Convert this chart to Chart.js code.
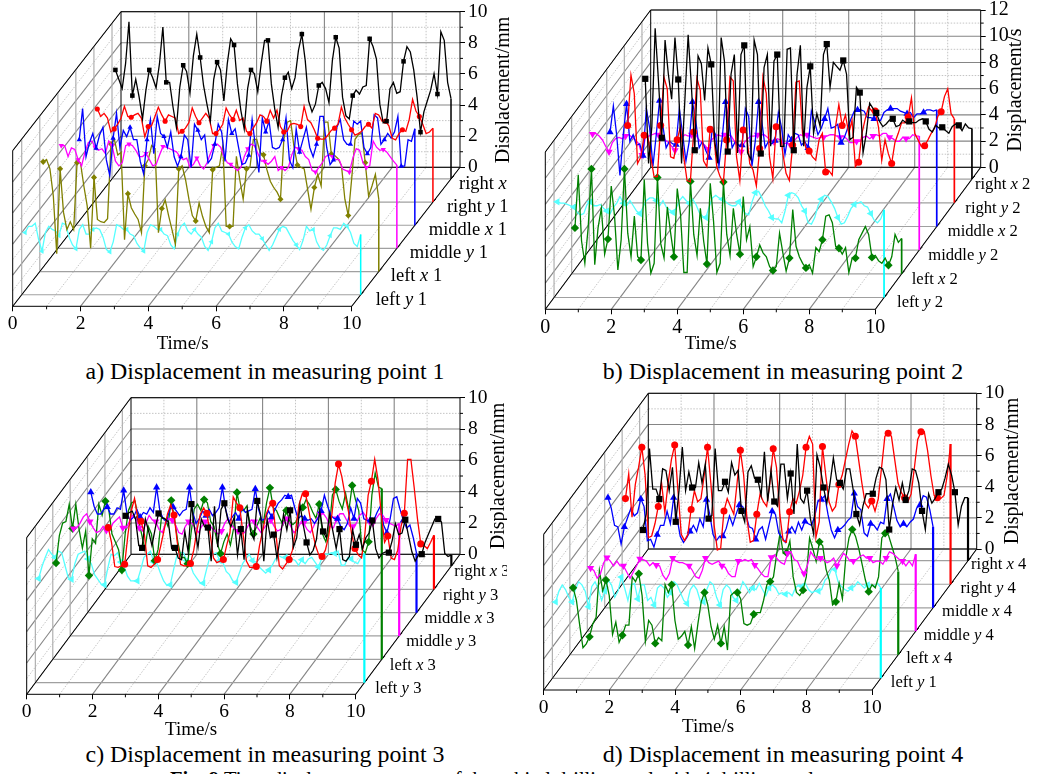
<!DOCTYPE html>
<html>
<head>
<meta charset="utf-8">
<title>Displacement in measuring points</title>
<script src="https://cdn.jsdelivr.net/npm/chart.js@4/dist/chart.umd.min.js"></script>
<style>
  html, body { margin: 0; padding: 0; background: #fff; }
  body { position: relative; width: 1038px; height: 774px; overflow: hidden; font-family: "Liberation Serif", serif; }
  canvas { position: absolute; }
  .cap { position: absolute; font-size: 23.9px; line-height: 26px; white-space: nowrap; color: #000; transform: translateX(-50%); }
</style>
</head>
<body>
<div class="cap" style="left:265px;top:358px">a) Displacement in measuring point 1</div>
<div class="cap" style="left:783px;top:358px">b) Displacement in measuring point 2</div>
<div class="cap" style="left:265px;top:741px">c) Displacement in measuring point 3</div>
<div class="cap" style="left:783px;top:741px">d) Displacement in measuring point 4</div>
<div class="cap" style="left:496px;top:766px;font-size:20.6px"><b>Fig. 9</b> Time displacement curves of the orbital drilling tool with 4 drilling tools</div>

<script>
'use strict';

/* ── time base shared by every curve ─────────────────── */
const times = [
  0.1,0.2,0.3,0.4,0.5,0.6,0.7,0.8,0.9,1.0,
  1.1,1.2,1.3,1.4,1.5,1.6,1.7,1.8,1.9,2.0,
  2.1,2.2,2.3,2.4,2.5,2.6,2.7,2.8,2.9,3.0,
  3.1,3.2,3.3,3.4,3.5,3.6,3.7,3.8,3.9,4.0,
  4.1,4.2,4.3,4.4,4.5,4.6,4.7,4.8,4.9,5.0,
  5.1,5.2,5.3,5.4,5.5,5.6,5.7,5.8,5.9,6.0,
  6.1,6.2,6.3,6.4,6.5,6.6,6.7,6.8,6.9,7.0,
  7.1,7.2,7.3,7.4,7.5,7.6,7.7,7.8,7.9,8.0,
  8.1,8.2,8.3,8.4,8.5,8.6,8.7,8.8,8.9,9.0,
  9.1,9.2,9.3,9.4,9.5,9.6,9.7,9.8,9.9,10.0
];
const xTicks = [0, 2, 4, 6, 8, 10];
const yTicks10 = [0, 2, 4, 6, 8, 10];
const yTicks12 = [0, 2, 4, 6, 8, 10, 12];

/* ── panel a ─────────────────────────────────────────── */
const aRightX = [
  7.0,6.4,5.8,7.4,10.1,5.35,6.4,5.25,3.85,5.7,
  7.0,6.5,5.85,7.4,9.76,6.2,6.2,4.6,3.3,5.9,
  7.3,6.9,5.5,7.9,9.3,7.8,6,4.8,3.7,6.4,
  7.5,7,5,7.4,9,8.6,6.1,4.4,3.2,5.8,
  7,6.75,5.6,7.4,8.9,8.9,6.1,4.5,3.3,5.35,
  6.5,6.85,5.8,6.5,8.25,9.3,7.6,5,4.3,4.8,
  6,6.2,5.8,4.9,7.6,9.1,8.4,5.25,4.05,3.85,
  5.35,5.7,5.45,5.9,6,9,8.5,7.7,4.8,3.6,
  3.7,5.8,6.2,5.5,5.6,7.55,8.5,8.15,7,5.25,
  3,4.3,5,5.7,6.75,5.45,9.45,8.9,6.2,5.15
];
const aRightY = [
  5.98,5.5,5.7,5.4,4.5,4.7,5,5.4,6.15,5.5,
  5.45,5.6,5.7,5.4,4.2,4.85,4.9,5.5,6.1,5.6,
  5.2,5.6,5.5,5.4,4.4,4.55,4.75,5.1,6.05,5.5,
  5.1,5.4,5.7,5.4,4.4,4.4,4.65,5,6.05,5.6,
  5.3,5.9,5.25,5.4,4.55,4.4,4.75,5.1,5.6,5.5,
  5.2,5.9,5.4,5.9,4.85,4.5,4.55,5,5.05,5,
  4.85,6.15,5.3,5.1,4.65,4.1,4.05,4.05,4.3,4.6,
  4.75,5,6.1,5.4,5,4.65,4.3,4.4,4.55,4.85,
  5,4.75,5.7,5.6,5.2,5.2,4.9,4.1,4,4.4,
  4.65,4.55,5.3,6.6,5.85,5.5,5,4.4,4.5,4.75
];
const aMiddleX = [
  5.5,7.5,4.4,5.3,5.9,4.95,5.8,6.3,4.2,3.2,
  5.6,7.2,5,6.1,5.7,6.3,5.5,5.5,4.1,3.3,
  5.5,6.8,4.6,7,5.9,5.7,5,6,4.4,3.8,
  4.4,5.8,5.5,3.7,6.5,6.1,5.5,5.8,4,4.3,
  5.2,6.5,6,4.1,6.8,5.9,6.2,5,3.9,4,
  4.5,6.8,5,3.4,6.9,6,6.7,5,4.9,5,
  5.5,6.9,4.2,3.7,6.2,4.7,5.5,6.3,5,4.4,
  5.2,7,7,5,3.9,4.2,6.3,6.8,5.5,5.2,
  5.2,6.7,6.5,6.7,5,4.6,5,7.1,6.9,5.2,
  5.5,5.9,5.6,6,7,3.8,3.8,5.5,5.4,6.2
];
const aMiddleY = [
  6.6,6.6,5.9,6.45,6.35,5.7,5.3,6.2,6.8,6.9,
  6.5,6.3,6.4,6.1,6.9,6.6,5.6,5.3,5.5,6.6,
  6.7,6.6,6.3,5.9,5.9,6.1,5.7,5.3,5.4,6,
  6.55,6.5,6.4,6.3,6.2,5.9,5.7,5.8,5.2,5.4,
  5.8,5.3,5.1,5.5,6.1,6.6,6.7,6.5,5.9,5.5,
  5.4,5.2,5,5.2,5.9,6.4,6.7,6.6,6.1,5.6,
  5.6,5.4,5.6,5.9,5,5.2,5,5.2,6,6.5,
  6.4,6.3,5.9,5.7,5,4.9,5.2,5.5,5.9,6,
  5.9,5.7,5.7,5.1,5,4.9,5.8,6.4,6.3,5.5,
  5.2,5.3,6.9,6.5,6.3,6.35,6.2,5.9,5.6,5.35
];
const aLeftX = [
  7.05,7.2,6.6,4.85,1.15,6.6,3.8,2.7,3.2,2.7,
  7,7,5.5,4.2,1.5,6.05,3.35,3.2,3.15,3.4,
  8.2,8.5,7.5,7.65,2.05,5,4.1,3.7,3.35,2.5,
  6.8,7.2,8.1,7.9,2.5,4.05,4.6,3.6,2.7,1.75,
  6.6,6.8,5.9,4.65,3.6,3.25,4.4,3.55,2.9,2.5,
  6.55,6.7,6.8,8.1,2.9,2.9,2.9,7.4,5.9,4.65,
  6.6,6.7,8.5,8.5,7.65,7.5,6.55,5.8,5.4,5.1,
  4.65,8.5,9.6,9.7,8,6.85,6.7,6.6,5.3,4,
  5.4,6.25,5.5,9.6,9.6,7.55,7.45,7.25,6.8,4.65,
  3.6,5.95,8.5,8.8,8.9,7,4.85,5.5,6.25,4.65
];
const aLeftY = [
  4,4.4,4.4,4.6,3.55,2.8,4,4.4,4.2,4.1,
  3.8,4.6,4.5,3.7,3.2,2.95,4.2,4.5,3.9,3.9,
  4.2,4.3,4.2,3.7,2.9,2.75,3.4,4.5,4.4,4.2,
  4.2,3.9,3.8,3.3,3,2.8,4,4.5,4.4,4.2,
  4.2,3.9,3.8,3.2,2.95,3.9,4.4,4.6,4.1,3.9,
  4.2,3.9,3.7,3.1,2.85,3.4,4.3,4.6,4.1,4,
  3.9,3.4,3.1,2.95,3.7,4.3,4.5,4.1,3.9,3.9,
  3.6,3.2,2.85,3.2,3.7,4.2,4.4,4.3,3.9,3.5,
  3.2,2.9,3.5,4.4,4.1,4.2,3.4,3,2.85,3.2,
  3.8,4.3,4.3,4.2,4.6,4.4,4,3.3,3.1,3.87
];

/* ── panel b ─────────────────────────────────────────── */
const bRightX = [
  7.65,1.2,4,11.5,7.5,3.15,10.6,8,6.1,10.8,
  7.6,1.2,6,11,7,2.2,9.4,8.8,6,10,
  8.75,3,1.2,10.8,9,2.1,8,9.5,2,9.5,
  10.2,2,1.5,10.6,9.5,1.95,8.5,9.5,2.5,9,
  9.5,2.5,2.5,9.9,10,2.2,8,10.2,2.5,7,
  8.6,3.5,5,4,9.5,10.3,7,8.9,8.6,8.3,
  9.05,8,3,3.2,7,6.6,2,3.5,5.8,5.4,
  5.05,4.4,4,4.2,4.5,4.6,4,4.1,4.5,4.3,
  4.4,4.3,4.3,4.5,4.6,4.4,3.8,3.6,4.1,3.9,
  3.95,3.7,3.5,4,4.2,4.1,3.7,4.2,3.9,3.85
];
const bRightY = [
  5.9,9.75,8.35,3,3.5,5.15,5.3,3.5,2,2,
  5.9,9.6,8.7,3.5,3.4,4.8,5.8,3.5,1.7,1.6,
  5.4,9.5,8.6,3.2,2.75,5.6,5.4,2.75,2,1.5,
  4.8,9.6,9.3,3.5,1.7,5.55,5.3,3,2.5,1.3,
  4.15,9.6,8.35,3.5,1.85,5.8,5.9,3.8,2.25,1.7,
  4.4,9.2,9.3,5.3,4.2,3.95,3.5,3.25,4.8,5.3,
  2.35,2.45,2.1,5.8,7.5,5.9,6.7,5.3,6.3,2.75,
  3.1,5.3,6.4,7.3,7,7,5.8,3.25,4.8,3.75,
  3,4.6,5.3,6.1,6.1,6.55,8,5.3,4.8,4.3,
  4.35,4.8,5.3,5.7,6.6,6.95,8.1,8.7,6.8,6.4
];
const bMiddleX = [
  7.2,9.2,7,3.9,7,9.35,6.5,7,6.2,6.3,
  5.4,9,7.5,4.6,7,9.6,7.7,6,6.5,6.3,
  6.25,9,7,5,6.5,9.5,8,6,6.5,5.8,
  5.25,7.5,7,4.6,6.8,9.5,8,6,6.5,6.2,
  6.2,9,8.4,4.6,6.5,9.5,8,6,6.5,6.3,
  6.55,8.7,7.5,5.5,7,6.6,7.1,7,6.2,6.5,
  6,8.8,8,7,7.5,8.2,9,7.5,7.6,7.8,
  6.4,6.8,7.5,8.2,8.8,8.9,8.9,8.8,8.3,8.3,
  8.2,8.1,8.1,8.7,8.9,9,9,9,8.8,8.7,
  8.6,8.7,8.3,8.6,8.6,8.7,8.9,8.9,8.8,8.9
];
const bMiddleY = [
  8.85,8.9,8.7,8.4,7.9,7.5,8.2,8.5,8.6,8.5,
  8.7,8.8,8.6,8.4,8.1,7.25,8.6,8.7,8.8,8.9,
  8.8,8.8,8.4,8.2,7.9,7.6,8.4,8.6,8.8,8.7,
  8.8,8.9,8.5,8.2,8,7.7,8.4,8.6,8.8,8.7,
  8.8,8.8,8.7,8.3,7.9,7.5,8.2,8.5,8.7,8.7,
  8.8,8.8,8.8,8.6,8.3,8.25,8.5,8.4,8.1,8.2,
  8,8.3,8.6,8.8,8.7,8.8,8.7,8.6,8.5,8.6,
  8.6,8.7,8.8,8.8,8.7,8.6,8.7,8.5,8.2,8.2,
  8.3,8.3,8.6,8.7,8.5,8.7,8.8,8.7,8.9,8.9,
  8.6,8.5,8.3,8.3,8.6,8.5,8.5,8.8,8.7,8.7
];
const bLeftX = [
  3.5,7.55,2.5,0.8,3.5,8,0.7,3.5,5,1.5,
  2.65,6.7,4.4,0.3,2.6,8,3.1,1.3,4.4,1.3,
  1.05,7.2,2.3,0.05,0.8,7.35,2.3,1.2,5.1,3.1,
  1.3,6.5,4.5,0.1,0.1,7.05,3,1.4,5,2.5,
  0.75,6.9,4,0.1,0.8,7,3,1.4,5,3,
  1.5,5.9,2.6,3.6,0.55,1.3,2.2,1.6,1.3,0.55,
  0.25,0.55,3.1,1.6,0.2,1.2,4.9,2.1,1.3,0.8,
  0.45,0.7,0.05,2,1.7,2.6,4.4,4.5,3.9,2.1,
  1.95,1.5,2,0.1,1.2,1.2,2.6,3.1,3.6,3,
  1.25,1.4,1,0.8,1.2,0.65,1.3,3,2.4,2.7
];
const bLeftY = [
  7.3,7.2,7.2,7.1,7,6.9,6.5,6.3,6.4,7.1,
  7.3,7,7,7.1,6.8,6.6,6.4,6.9,7.2,7.7,
  7.2,7,7.4,7,6.6,6.4,6.9,7.4,7.6,7.6,
  7.4,7,7.4,6.9,6.7,6.5,6.8,7.4,7.7,7.4,
  7.2,7.5,7.1,6.5,6.2,6.1,6.9,7.6,7.8,7.6,
  7.5,7.3,7.1,7,7,7.3,6.8,6.4,6.3,7.3,
  8,8.1,7.6,7,6.6,6.1,6,6,5.7,6.6,
  7.8,8,7.9,7.6,7,6.6,5.7,5.6,6.1,7,
  7.5,7.8,7.7,7.3,6.8,6.1,5.6,5.7,6.2,6.8,
  7.1,7.2,7.3,7,6.9,6.4,5.9,5.7,6,6.7
];

/* ── panel c ─────────────────────────────────────────── */
const cRightX = [
  3.2,3.4,3.5,3,1.3,1.15,3,2.2,1.3,2.4,
  3.35,3.1,3,2.8,1.1,1.15,0.5,0.4,2.2,0.9,
  3.95,2.3,1.2,3,2.5,2.45,0.3,3.8,1.2,3.6,
  4,3,2.5,3.1,0.7,2.35,0.4,3.6,2.2,1.7,
  4.15,3.3,0.3,3,1.8,2,0.5,1.8,3.3,2.3,
  3.55,1.2,1.8,3.9,2.6,1.5,0.7,1,1.7,3.5,
  2.2,1.8,3.3,2.2,1.1,2.35,0.4,0.3,0.6,2.3,
  1.35,2,1.1,1.8,2.1,2.9,1.1,0.5,0.8,0.9,
  0.85,1.6,2.7,2,2.1,2.95,1.9,0.9,0.3,0.7,
  0.75,1.5,2,2.5,3,3,2.8,0.8,0.6,0.7
];
const cRightY = [
  3.95,3,1.45,1.4,1.5,1.6,3.5,5,5.8,4.5,
  4.35,3.5,1.5,1.4,1.6,1.9,2.8,3.8,4.8,5.4,
  4.75,3,1.6,1.5,1.5,1.65,2.5,3.8,4.8,5.2,
  4.85,3.5,2,1.7,1.8,1.9,2.8,3.6,5.9,5.5,
  5.2,3.5,1.8,1.4,1.4,1.45,2.8,3.8,4.8,5.3,
  5.5,3.5,1.5,1.3,1.6,1.9,2.5,3.8,5.4,6.1,
  6.1,5,3.8,2.8,2.2,2.1,2.5,3.4,4.8,6.8,
  8,7.2,6,5,3.5,2.6,2.2,2,3.5,6,
  6.9,8.3,7,4.8,3,3.4,2,1.9,2.5,4,
  4.85,8.3,8.3,6.5,4.5,2.9,2.8,2.6,3,3.45
];
const cMiddleX = [
  7.7,6.8,6.3,6.3,6.6,6.75,6.3,6.3,6.7,6.6,
  7.8,6.3,5.9,6.1,6.6,6.1,6.4,6.3,6.7,6.4,
  8,6.5,6,5.8,6.6,6.75,6.5,6.2,6.5,6.6,
  8,6.4,5.7,6,6.5,6.2,6.6,6.2,6.4,6.7,
  8,6.6,5.8,6.1,6.4,6,6.7,6.4,6.5,6.6,
  7.9,6.6,5.9,6,6.5,6.1,6.6,7,7.2,7.5,
  7.4,7.5,6.7,6,6.2,6,5.9,6,5.7,6,
  6.5,7.5,6.8,6.2,6,6,5.5,5.3,5.7,6.7,
  6,7.3,7,6,5.9,5.9,5.9,6.4,6.8,5.6,
  5.1,6,7.3,7.4,6.6,5.9,5.4,5.6,4.8,3.8
];
const cMiddleY = [
  6.85,6.9,7.2,7.6,7.8,7.3,6.9,6.6,6.7,7,
  6.75,6.7,7.2,7.4,7.6,6.9,6.9,7.3,7.7,7.5,
  6.9,6.7,7.2,7.7,7.4,7.3,6.8,6.6,7.2,7.5,
  7.4,7.1,6.6,6.5,7,7.3,7.2,6.9,6.6,7,
  7.3,7.2,6.9,6.7,6.5,6.7,7.2,7.5,7.1,6.8,
  6.7,6.5,6.6,7,7.4,7.3,6.9,6.6,6.9,7.2,
  7.4,7,6.7,6.8,7.3,7.5,7,6.6,6.8,7.2,
  7.2,6.8,6.6,7,7.5,7.8,7.8,7.5,7,6.9,
  7.5,7.8,7.8,7.4,7,7,7.2,7.7,7.9,7.6,
  7.3,7,7.5,7.8,7.7,7.4,7.2,7.1,7,7.2
];
const cLeftX = [
  6.15,7.9,8.7,8.8,9.9,8.35,9.9,8.3,7.1,8.2,
  5.35,7.7,7.4,9.9,9.2,10.1,9.6,8,7.5,7,
  5.7,8,9.5,10,10.1,9,8,7,8.5,8,
  6.3,7,9,9,8.5,10.15,9,7.5,6.5,6.5,
  6.1,8,9.6,9.9,9.5,10.2,10,8.8,8.5,7.4,
  6.75,7.5,8,7.3,8.4,10.65,9.5,9.5,9.8,8.5,
  8,8.5,9,8.7,10,10.95,9.7,9.5,9,8.6,
  9.5,8.8,8.6,8.8,9.5,9.7,10.2,9.9,9.4,9,
  9.9,8,7.5,8.3,10.5,10.85,10.1,9.6,10.6,9.5,
  11.1,10.2,9.5,7,6.8,7.5,10.5,11.9,11,10.9
];
const cLeftY = [
  6.65,7.4,8,8.5,8.2,8,8.4,8.3,7.5,6.7,
  6.6,7.6,8.2,8.3,8.4,7.9,7.6,6.9,6.6,6.3,
  6.25,7.3,8.2,8.1,8.3,7.7,7.4,6.8,6.5,6.5,
  6.5,7.2,8,8.2,8.4,7.7,7.6,7,6.5,6.2,
  6.25,7.2,8.1,8.3,8.3,7.8,7.6,7,6.7,6.4,
  6.35,7.2,8,8.2,8.3,7.8,7.7,7.1,6.9,6.5,
  6.4,7,7.6,7.9,8.2,7.8,7.7,7.4,7.2,7,
  7.2,7.5,7.9,8.1,8,8,7.7,7.9,7.8,7.5,
  7.85,7.6,7.9,8,7.7,7.4,7.9,8.2,8.2,8.3,
  8.25,8.4,7.5,7.5,8,7.9,7.7,7.6,8,8.25
];

/* ── panel d ─────────────────────────────────────────── */
const dRightX = [
  1.97,3,7.2,4.6,4.6,3.96,5.9,5.8,4.5,6,
  2.5,4.5,7.3,4.5,5.7,4.7,4.7,6.3,5,6.2,
  2.7,2.9,7.2,4.5,4.5,5.07,4.4,6.3,5.5,5.8,
  3.2,2.5,5.7,6.1,5.3,5.2,4.2,7,3.8,5.8,
  3.8,3.5,6.2,6.2,4,5.6,3,7.5,4,3.7,
  4.5,2.7,1.7,6.8,6,4.7,3.7,5,6.6,5.2,
  5,4.6,5.9,5.9,4.6,3,2.3,3.5,4.3,4.3,
  4.3,5.3,6,5.9,5.2,2,3.6,4.7,3.9,5,
  3.9,4.5,5.9,5.8,5,3.2,2,4.3,3.7,4,
  4.4,4.6,5.3,6.2,5.5,4.4,2.3,3.5,4.05,4.05
];
const dRightY = [
  5.5,7.1,4.3,6.4,7.5,8.8,7,3,3.1,3.9,
  5,6.5,4.6,6.5,8,8.95,6,3.2,2.8,3.2,
  4.8,6,5.3,5.5,7,8.8,6.5,3.8,2.2,2.3,
  4.7,5.5,5,4.5,6.5,8.6,7,4.2,2.7,2.8,
  4.5,5.8,5.3,5,6.5,8.7,7.5,4.5,2.8,2.7,
  4.65,5.5,5.2,6,7,8.8,9.5,9,3,4,
  8.85,7,5.3,4.7,5,6.4,7,8,9,9.85,
  9.5,8,6.5,5.2,4.9,5.35,4.7,5.5,7.5,9.5,
  9.7,9.5,8,6.5,5.9,5.55,5.3,5.8,7.5,9.3,
  9.8,9.8,8.6,7,5.7,5.55,5.5,5.7,7,9
];
const dMiddleX = [
  7.07,6.4,5.3,5.2,4.1,5.2,5.8,6.4,5.9,6.1,
  7,6.5,4.3,4.4,3.9,4.7,5.3,5.3,6.2,5.4,
  7.07,5.8,4.6,4.2,4.5,4.9,5.3,4.9,5.7,5.2,
  6.95,6,4.7,4.3,4.6,4.6,5.1,5.9,5.3,6,
  6.6,6.5,6,5.2,5.1,4.4,5,5.2,4.4,5.3,
  6.2,6,4.8,4.5,4.2,4.9,5.2,4.8,5.5,5,
  5.55,5.4,5.3,5.9,6.9,6.95,7.2,6,5,4.5,
  5,5.1,5.3,5.6,5.8,7.35,6.5,6.3,4.8,4.6,
  5.4,5.3,5,5.5,5.4,7,7.3,6.5,5.6,5.2,
  5.4,5.2,5.5,5.7,6.4,6.6,7.2,7.1,6.3,5.2
];
const dMiddleY = [
  4.05,3.9,3.4,3.7,4.4,4.73,4.5,4.2,4.5,4.2,
  4.2,3.8,3.4,3.8,4.2,4.65,4.6,4.5,4.2,4.4,
  4.25,4.2,3.6,3.3,3.7,4.7,4.5,4.4,4.4,4.3,
  4.2,3.9,3.5,3.4,3.9,4.7,4.4,4.3,4.4,4.5,
  4.2,4.1,3.7,3.5,3.5,4.5,4.5,4.6,4.5,4.6,
  4.25,4,3.7,3.5,3.5,4.75,4.9,4.6,4.4,4.3,
  5,5.1,4.6,4.5,4,3.7,4.2,5.1,4.8,4.6,
  4.7,4.6,4.4,4.5,4.7,4.2,4.6,5,4.8,4.5,
  4.5,4.6,4.8,4.9,4.7,4.7,4.4,4.5,4.5,4.3,
  4.7,5.1,5,4.8,4.6,4.5,4.2,4.5,4.2,4.95
];
const dLeftX = [
  4.3,3.5,1.9,0.45,0.7,1.15,2,2.4,5.4,4.1,
  4.8,3.8,1.3,2.1,0.8,1.25,1.9,1.9,5,4.7,
  5.2,3.8,0.85,2.2,1.9,0.73,1.1,0.9,4.5,4,
  4.5,2.2,1,1.2,1.5,0.62,1.8,0.4,2,3.4,
  4,3.2,1.8,1,1.9,0.73,1.8,0.3,3.8,4,
  4,3.6,2,1.9,2,2.6,2.7,2.7,3.5,4.5,
  4.7,5,6.5,7.8,6.5,6.55,7.3,5,4,3.8,
  4.15,5,7.5,6.8,6,7.25,7,5.5,4.8,3.2,
  3.4,4.6,3.6,6.2,7.5,8.05,7.6,6.8,5.8,4.8,
  4.05,4.5,4.3,5,7.5,7.8,7.7,7,6.3,5.35
];
const dLeftY = [
  4.9,5.6,6,5.7,5.2,4.9,5.7,6.2,6,5.6,
  4.6,5.9,6.2,5.7,5,5.6,6.3,6,5.2,5.6,
  6.5,5.8,5,6,6.1,5.1,6,6,5,5.2,
  4.7,5.8,6,5.8,5.2,5.5,6.2,6,5.5,5,
  4.8,5.7,6,5.7,5,4.9,5.7,6.2,6,5.2,
  4.7,5.7,6,5.8,5.2,5,5.6,6.2,5.9,5.5,
  5.8,5.7,6.1,5.7,5.3,5.8,6,5.8,5.4,5.5,
  5.4,5.5,5.3,5.8,6,5.9,6.1,5.7,5.5,5.6,
  5.6,5.7,6.3,6.5,7,7,6.2,5.9,5.7,5.6,
  5.8,5.9,6.2,6,5.8,6,6,5.9,6.1,5.8
];

/* ── series look, back row first so it lands on top ──── */
const DEPTHS = [0.917, 0.75, 0.583, 0.417, 0.25, 0.083];
const STYLES = [
  { color: '#000000', point: 'rect',     rot: 0,   size: 1.0 },
  { color: '#ff0000', point: 'circle',   rot: 0,   size: 0.8 },
  { color: '#0000ff', point: 'triangle', rot: 0,   size: 0.95 },
  { color: '#ff00ff', point: 'triangle', rot: 180, size: 0.95 },
  { color: '#008000', point: 'rectRot',  rot: 0,   size: 0.95 },
  { color: '#55ffff', point: 'triangle', rot: -90, size: 0.95 }
];
const DROP_COLORS = ['#000000', '#ff0000', '#0000ff', '#ff00ff', '#008000', '#00ffff'];

function depthLabel(word, axis, tail) { return { word, axis, tail }; }

/* ── one 3D panel = one scatter chart with sheared data ─ */
function drawPanel(cfg) {
  const canvas = document.createElement('canvas');
  canvas.width = cfg.w; canvas.height = cfg.h;
  canvas.style.left = cfg.left + 'px';
  canvas.style.top = cfg.top + 'px';
  canvas.style.width = cfg.w + 'px';
  canvas.style.height = cfg.h + 'px';
  document.body.appendChild(canvas);

  const unitX = (cfg.backRight - cfg.backLeft) / 10;
  const unitY = (cfg.backFloor - cfg.wallTop) / cfg.yMax;
  const shear = (cfg.backLeft - cfg.frontLeft) / unitX;
  const floorDrop = (cfg.frontFloor - cfg.backFloor) / unitY;

  const toX = (t, d) => t + d * shear;
  const toY = (v, d) => v - (1 - d) * floorDrop;

  const datasets = cfg.series.map((values, i) => {
    const st = STYLES[i];
    const color = i === 4 && cfg.leftXColor ? cfg.leftXColor : st.color;
    const d = DEPTHS[i];
    const pts = values.map((v, k) => ({ x: toX(times[k], d), y: toY(v, d) }));
    pts.push({ x: toX(times[values.length - 1], d), y: toY(0, d) });
    return {
      data: pts,
      showLine: true,
      clip: false,
      borderColor: color,
      borderWidth: cfg.lineWidth,
      tension: 0,
      pointStyle: st.point,
      pointRotation: st.rot,
      pointBackgroundColor: color,
      pointBorderColor: color,
      pointBorderWidth: 0,
      pointRadius: c => (c.dataIndex % 5 === 0 && c.dataIndex < values.length) ? cfg.marker * st.size : 0,
      segment: {
        borderWidth: c => c.p1DataIndex === values.length ? cfg.dropWidth : undefined,
        borderColor: c => c.p1DataIndex === values.length ? (i === 4 && cfg.leftXColor ? cfg.leftXColor : DROP_COLORS[i]) : undefined
      }
    };
  });

  const wallPlugin = {
    id: 'wall',
    beforeDatasetsDraw(chart) {
      const { ctx, scales: { x, y } } = chart;
      const P = (t, v, d) => [x.getPixelForValue(toX(t, d)), y.getPixelForValue(toY(v, d))];
      const seg = (a, b, color, width, dash) => {
        ctx.beginPath();
        ctx.strokeStyle = color;
        ctx.lineWidth = width;
        ctx.setLineDash(dash || []);
        ctx.moveTo(a[0], a[1]);
        ctx.lineTo(b[0], b[1]);
        ctx.stroke();
        ctx.setLineDash([]);
      };
      const MAJOR = '#858585', MINOR = '#c4c4c4', DOT = [1.5, 1.5];
      ctx.save();

      // back and left walls, horizontal levels
      for (let v = 0; v <= cfg.yMax; v++) {
        const major = v % 2 === 0;
        seg(P(0, v, 1), P(10, v, 1), major ? MAJOR : MINOR, major ? 1.1 : 1, major ? null : DOT);
        seg(P(0, v, 0), P(0, v, 1), major ? MAJOR : MINOR, major ? 1.1 : 1, major ? null : DOT);
      }
      // time lines on back wall and floor
      for (let t = 1; t < 10; t++) {
        const major = t % 2 === 0;
        seg(P(t, 0, 1), P(t, cfg.yMax, 1), major ? MAJOR : MINOR, major ? 1.1 : 1, major ? null : DOT);
      }
      for (let t = 1; t <= 10; t++) {
        const major = t % 2 === 0;
        seg(P(t, 0, 0), P(t, 0, 1), major ? MAJOR : MINOR, major ? 1.1 : 1, major ? null : DOT);
      }
      // one floor line and one wall post per series row
      DEPTHS.forEach(d => {
        seg(P(0, 0, d), P(10, 0, d), '#a0a0a0', 1.2);
        seg(P(0, 0, d), P(0, cfg.yMax, d), '#b0b0b0', 1.2);
      });
      // frame
      const K = '#000000';
      seg(P(0, 0, 0), P(10, 0, 0), K, 1);
      seg(P(0, 0, 0), P(0, 0, 1), K, 1);
      seg(P(10, 0, 0), P(10, 0, 1), K, 1);
      seg(P(0, 0, 1), P(10, 0, 1), K, 1);
      seg(P(0, 0, 0), P(0, cfg.yMax, 0), K, 1);
      seg(P(0, cfg.yMax, 0), P(0, cfg.yMax, 1), K, 1);
      seg(P(0, 0, 1), P(0, cfg.yMax, 1), K, 1);
      seg(P(0, cfg.yMax, 1), P(10, cfg.yMax, 1), K, 1);
      seg(P(10, 0, 1), P(10, cfg.yMax, 1), K, 1);
      // minor tick marks
      for (let v = 1; v < cfg.yMax; v += 2) {
        const p = P(10, v, 1);
        seg(p, [p[0] + 3, p[1]], K, 1);
      }
      for (let t = 1; t < 10; t += 2) {
        const p = P(t, 0, 0);
        seg(p, [p[0], p[1] + 3], K, 1);
      }
      DEPTHS.forEach(d => {
        const p = P(10, 0, d);
        seg(p, [p[0] + 3, p[1] - 3], K, 1);
      });

      // text that is not a plain tick label
      ctx.fillStyle = '#000';
      ctx.textBaseline = 'middle';
      ctx.textAlign = 'center';
      ctx.font = `${cfg.titleFont}px "Liberation Serif"`;
      ctx.fillText('Time/s', cfg.timeX, cfg.timeY);
      ctx.save();
      ctx.translate(cfg.dispX, cfg.dispY);
      ctx.rotate(-Math.PI / 2);
      ctx.font = `${cfg.titleFont + 1}px "Liberation Serif"`;
      ctx.fillText(cfg.dispTitle, 0, 0);
      ctx.restore();

      ctx.textAlign = 'left';
      cfg.rows.forEach((r, i) => {
        const p = P(10, 0, DEPTHS[i]);
        let px = p[0] + cfg.rowOffsets[i];
        const py = p[1] + cfg.rowDrop;
        const plain = `${cfg.rowFont}px "Liberation Serif"`;
        const ital = `italic ${cfg.rowFont}px "Liberation Serif"`;
        ctx.font = plain;
        ctx.fillText(r.word + ' ', px, py);
        px += ctx.measureText(r.word + ' ').width;
        ctx.font = ital;
        ctx.fillText(r.axis, px, py);
        px += ctx.measureText(r.axis).width;
        ctx.font = plain;
        ctx.fillText(' ' + r.tail, px, py);
      });
      ctx.restore();
    }
  };

  new Chart(canvas, {
    type: 'scatter',
    data: { datasets },
    plugins: [wallPlugin],
    options: {
      responsive: false,
      animation: false,
      devicePixelRatio: 1,
      events: [],
      layout: {
        padding: { left: cfg.frontLeft - cfg.left, top: cfg.wallTop - cfg.top, right: 0, bottom: 0 }
      },
      plugins: { legend: { display: false }, tooltip: { enabled: false } },
      scales: {
        x: {
          type: 'linear',
          min: 0,
          max: 10 + shear,
          bounds: 'data',
          afterBuildTicks: s => { s.ticks = xTicks.map(v => ({ value: v })); },
          afterFit: s => {
            s.height = cfg.top + cfg.h - cfg.frontFloor;
            s.paddingLeft = s.paddingRight = s.paddingTop = s.paddingBottom = 0;
          },
          border: { display: false },
          grid: { drawOnChartArea: false, drawTicks: true, tickLength: 5, color: '#000' },
          ticks: {
            autoSkip: false, maxRotation: 0, minRotation: 0, padding: 1,
            color: '#000',
            font: { family: 'Liberation Serif', size: cfg.tickFont },
            callback: v => String(v)
          }
        },
        y: {
          type: 'linear',
          position: 'right',
          min: -floorDrop,
          max: cfg.yMax,
          bounds: 'data',
          afterBuildTicks: s => { s.ticks = cfg.yTicks.map(v => ({ value: v })); },
          afterFit: s => {
            s.width = cfg.left + cfg.w - cfg.backRight;
            s.paddingLeft = s.paddingRight = s.paddingTop = s.paddingBottom = 0;
          },
          border: { display: false },
          grid: { drawOnChartArea: false, drawTicks: true, tickLength: 5, color: '#000' },
          ticks: {
            autoSkip: false, padding: 3,
            color: '#000',
            font: { family: 'Liberation Serif', size: cfg.tickFont },
            callback: v => String(v)
          }
        }
      }
    }
  });
}

const rowsFor = n => [
  depthLabel('right', 'x', n), depthLabel('right', 'y', n),
  depthLabel('middle', 'x', n), depthLabel('middle', 'y', n),
  depthLabel('left', 'x', n), depthLabel('left', 'y', n)
];
const rowsD = rowsFor('4');
rowsD[5] = depthLabel('left', 'y', '1');

drawPanel({
  left: 0, top: 0, w: 509, h: 358,
  frontLeft: 12.7, backLeft: 121, backRight: 460,
  wallTop: 11.7, backFloor: 167.3, frontFloor: 306.3,
  yMax: 10, yTicks: yTicks10,
  series: [aRightX, aRightY, aMiddleX, aMiddleY, aLeftX, aLeftY],
  leftXColor: '#808000',
  marker: 3.2, lineWidth: 1.3, dropWidth: 1.5, tickFont: 19.5, titleFont: 19, rowFont: 18.5,
  rows: rowsFor('1'), rowOffsets: [8, 14, 14, 13, 12, 15], rowDrop: 5,
  timeX: 182.7, timeY: 344, dispX: 504, dispY: 90, dispTitle: 'Displacement/mm'
});
drawPanel({
  left: 520, top: 0, w: 510, h: 358,
  frontLeft: 545.3, backLeft: 650.7, backRight: 980.7,
  wallTop: 10, backFloor: 167.3, frontFloor: 309.3,
  yMax: 12, yTicks: yTicks12,
  series: [bRightX, bRightY, bMiddleX, bMiddleY, bLeftX, bLeftY],
  marker: 4.4, lineWidth: 1.3, dropWidth: 1.7, tickFont: 20, titleFont: 19, rowFont: 16.6,
  rows: rowsFor('2'), rowOffsets: [3, 11, 11, 9, 10, 13], rowDrop: 5.5,
  timeX: 190.7, timeY: 344, dispX: 496, dispY: 90, dispTitle: 'Displacement/s'
});
drawPanel({
  left: 0, top: 385, w: 507, h: 358,
  frontLeft: 26.7, backLeft: 131, backRight: 460,
  wallTop: 397.7, backFloor: 554.3, frontFloor: 694.3,
  yMax: 10, yTicks: yTicks10,
  series: [cRightX, cRightY, cMiddleX, cMiddleY, cLeftX, cLeftY],
  marker: 4.4, lineWidth: 1.3, dropWidth: 2.2, tickFont: 19.5, titleFont: 19, rowFont: 16.6,
  rows: rowsFor('3'), rowOffsets: [3, 9, 8, 7, 8, 11], rowDrop: 6,
  timeX: 191, timeY: 345, dispX: 499, dispY: 91, dispTitle: 'Displacement/mm'
});
drawPanel({
  left: 520, top: 385, w: 510, h: 358,
  frontLeft: 543.7, backLeft: 648.3, backRight: 976.7,
  wallTop: 393.3, backFloor: 549, frontFloor: 690,
  yMax: 10, yTicks: yTicks10,
  series: [dRightX, dRightY, dMiddleX, dMiddleY, dLeftX, dLeftY],
  marker: 4.4, lineWidth: 1.3, dropWidth: 2.2, tickFont: 19.5, titleFont: 19, rowFont: 16.6,
  rows: rowsD, rowOffsets: [3, 10, 9, 8, 8, 10], rowDrop: 4,
  timeX: 188, timeY: 342, dispX: 492.7, dispY: 86, dispTitle: 'Displacement/mm'
});
</script>
</body>
</html>
